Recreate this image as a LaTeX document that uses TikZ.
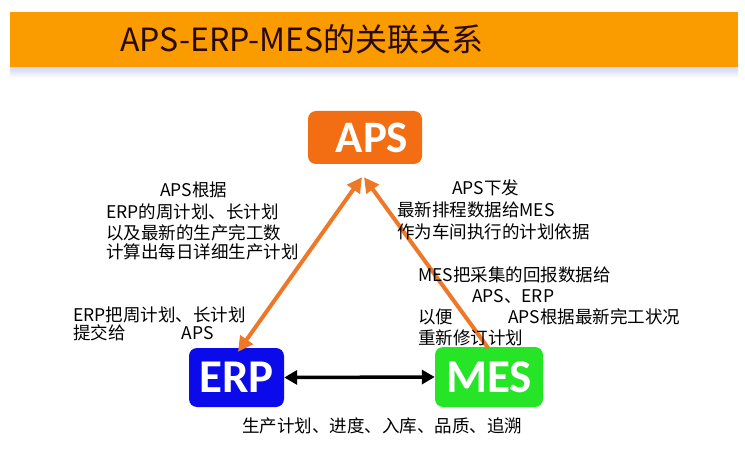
\documentclass[tikz,border=0pt]{standalone}
\usepackage{fontspec}
\setmainfont{Noto Sans CJK SC}
\newfontfamily\boxfont{Carlito}
\usetikzlibrary{arrows.meta,calc}
\definecolor{barorange}{RGB}{250,155,0}
\definecolor{apsorange}{RGB}{243,110,18}
\definecolor{arroworange}{RGB}{237,120,40}
\definecolor{erpblue}{RGB}{10,10,235}
\definecolor{mesgreen}{RGB}{38,228,38}
\definecolor{titleink}{RGB}{40,10,0}
\definecolor{shadowblue}{RGB}{200,210,245}
\tikzset{
  sysbox/.style={rounded corners=8pt, inner sep=0pt, text=white,
    font=\boxfont\bfseries\fontsize{47}{47}\selectfont},
  txt/.style={anchor=base west, inner sep=0pt, font=\fontsize{17.5}{20}\selectfont},
  orangelink/.style={draw=arroworange, line width=4pt},
  otip/.tip={Triangle[length=15pt,width=15pt]},
  blacklink/.style={draw=black, line width=3.5pt},
  btip/.tip={Triangle[length=13pt,width=14pt]}
}
\begin{document}
\begin{tikzpicture}[x=1pt,y=-1pt]
\useasboundingbox (0,0) rectangle (745,476);
\fill[white] (0,0) rectangle (745,476);
% header bar
\shade[top color=shadowblue, bottom color=white] (10,66) rectangle (738,78);
\fill[barorange] (10,12) rectangle (738,67);
\node[anchor=base west, inner sep=0pt, text=titleink, font=\fontsize{32}{36}\selectfont] (title) at (120,52) {APS-ERP-MES的关联关系};
% boxes
\node[sysbox, fill=apsorange, minimum width=114pt, minimum height=53pt, font=\boxfont\bfseries\fontsize{45}{45}\selectfont] (APS) at (365,137.5) {\hspace*{14pt}APS};
\node[sysbox, fill=erpblue, minimum width=95pt, minimum height=59pt] (ERP) at (236.5,377.5) {ERP};
\node[sysbox, fill=mesgreen, minimum width=108pt, minimum height=60pt] (MES) at (489,377) {MES};
% connectors
\draw[orangelink, otip-otip] ($(ERP.north)+(1.5,4)$) -- ($(APS.south)+(-3,13)$);
\draw[orangelink, -otip] ($(MES.north)+(-1,1)$) -- ($(APS.south)+(-1,13)$);
\draw[blacklink, btip-btip] (ERP.east) -- (MES.west);
% left texts
\node[txt] (l1) at (160,196.5) {APS根据};
\node[txt] (l2) at (106,218.5) {ERP的周计划、长计划};
\node[txt] (l3) at (106,239.5) {以及最新的生产完工数};
\node[txt] (l4) at (106,258.5) {计算出每日详细生产计划};
\node[txt] (l5) at (73,321.5) {ERP把周计划、长计划};
\node[txt] (l6) at (73,339.5) {提交给\hspace{56pt}APS};
% right texts
\node[txt] (r1) at (452,194.5) {APS下发};
\node[txt] (r2) at (397,216.5) {最新排程数据给MES};
\node[txt] (r3) at (397,238.5) {作为车间执行的计划依据};
\node[txt] (r4) at (418,281.5) {MES把采集的回报数据给};
\node[txt] (r5) at (472,302.5) {APS、ERP};
\node[txt] (r6) at (418,323.5) {以便\hspace{55pt}APS根据最新完工状况};
\node[txt] (r7) at (418,344.5) {重新修订计划};
% bottom text
\node[txt] (b1) at (242,432.5) {生产计划、进度、入库、品质、追溯};
\end{tikzpicture}
\end{document}
